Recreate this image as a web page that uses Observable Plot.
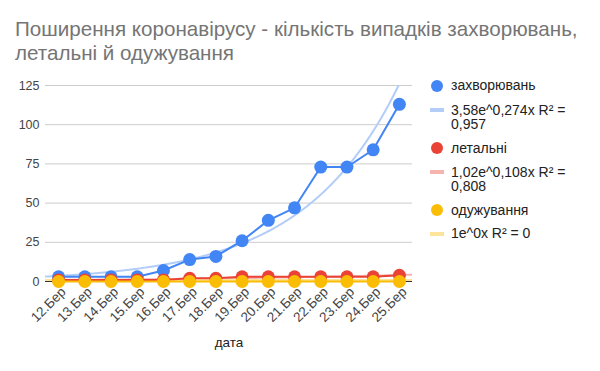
<!DOCTYPE html>
<html>
<head>
<meta charset="utf-8">
<script src="https://cdn.jsdelivr.net/npm/d3@7"></script>
<script src="https://cdn.jsdelivr.net/npm/@observablehq/plot@0.6"></script>
<style>
  html, body { margin: 0; padding: 0; background: #fff; }
  body { width: 600px; height: 371px; overflow: hidden; font-family: "Liberation Sans", Arial, sans-serif; }
  #wrap { position: relative; width: 600px; height: 371px; }
  #title { position: absolute; left: 15px; top: 17px; font-size: 20.6px; line-height: 24px; color: #757575; white-space: nowrap; }
  #chart { position: absolute; left: 0; top: 0; }
  #legend { position: absolute; left: 0; top: 0; width: 600px; height: 371px; pointer-events: none; }
  .lg-item { position: absolute; left: 451px; font-size: 14px; line-height: 14.5px; color: #222; }
  .lg-dot { position: absolute; width: 12px; height: 12px; border-radius: 50%; }
  .lg-line { position: absolute; width: 14px; height: 4px; }
</style>
</head>
<body>
<div id="wrap">
  <div id="chart"></div>
  <div id="title">Поширення коронавірусу - кількість випадків захворювань,<br>летальні й одужування</div>
  <div id="legend"></div>
</div>
<script>
// ---- data ----
const dates = ["12.Бер","13.Бер","14.Бер","15.Бер","16.Бер","17.Бер","18.Бер","19.Бер","20.Бер","21.Бер","22.Бер","23.Бер","24.Бер","25.Бер"];
const cases = [3, 3, 3, 3, 7, 14, 16, 26, 39, 47, 73, 73, 84, 113];
const deaths = [1, 1, 1, 1, 1, 2, 2, 3, 3, 3, 3, 3, 3, 4];
const recovered = [0, 0, 0, 0, 0, 0, 0, 0, 0, 0, 0, 0, 0, 0];
const seriesNames = ["захворювань", "летальні", "одужування"];
const seriesColors = ["#4285F4", "#EA4335", "#FBBC04"];
const trendColors = ["#b3cdf9", "#f5b4ae", "#fde49b"];
const trendA = [3.58, 1.02, 1];
const trendB = [0.274, 0.108, 0];
const trendLabels = ["3,58e^0,274x R² =<br>0,957", "1,02e^0,108x R² =<br>0,808", "1e^0x R² = 0"];
const yTicks = [0, 25, 50, 75, 100, 125];
const xTitle = "дата";

// ---- build tables ----
const allSeries = [cases, deaths, recovered];
const points = [];
allSeries.forEach((vals, s) => vals.forEach((v, i) => points.push({s, i, v})));
const trendPts = [];
for (let s = 0; s < 3; s++) {
  for (let k = 0; k <= 280; k++) {
    const t = -0.5 + k * 0.05;
    trendPts.push({s, t, v: trendA[s] * Math.exp(trendB[s] * t)});
  }
}

const FONT = "'Liberation Sans', Arial, sans-serif";
const marks = [
  Plot.gridY(yTicks, {stroke: "#cccccc", strokeOpacity: 1}),
  Plot.axisY(yTicks, {tickSize: 0, tickPadding: 6, fontSize: 12.5, fill: "#444", label: null}),
  Plot.axisX(d3.range(dates.length), {tickSize: 0, tickPadding: 8, dx: 5, tickRotate: -45, fontSize: 13.5, fill: "#444", label: null, tickFormat: i => dates[i]}),
];
for (let s = 0; s < 3; s++) {
  marks.push(Plot.line(trendPts.filter(d => d.s === s), {x: "t", y: "v", stroke: trendColors[s], strokeWidth: 2, clip: true, curve: "linear"}));
}
marks.push(Plot.ruleY([0], {stroke: "#333", strokeWidth: 1}));
for (let s = 0; s < 3; s++) {
  const pts = points.filter(d => d.s === s);
  marks.push(Plot.line(pts, {x: "i", y: "v", stroke: seriesColors[s], strokeWidth: 2}));
  marks.push(Plot.dot(pts, {x: "i", y: "v", fill: seriesColors[s], r: 6.5}));
}
marks.push(Plot.text([xTitle], {frameAnchor: "bottom", dy: 65, fontSize: 13.5, fill: "#222", text: d => d}));

const chart = Plot.plot({
  width: 600,
  height: 371,
  marginLeft: 45,
  marginRight: 188,
  marginTop: 85,
  marginBottom: 90,
  style: {fontFamily: FONT, background: "#fff"},
  x: {type: "linear", domain: [-0.5, dates.length - 0.5]},
  y: {domain: [0, 125]},
  marks
});
document.getElementById("chart").appendChild(chart);

// ---- legend ----
const lg = document.getElementById("legend");
const rows = [
  {kind: "dot", s: 0, y: 85.5, text: seriesNames[0]},
  {kind: "line", s: 0, y: 110, text: trendLabels[0]},
  {kind: "dot", s: 1, y: 148, text: seriesNames[1]},
  {kind: "line", s: 1, y: 172, text: trendLabels[1]},
  {kind: "dot", s: 2, y: 210, text: seriesNames[2]},
  {kind: "line", s: 2, y: 233.5, text: trendLabels[2]},
];
rows.forEach(r => {
  const m = document.createElement("div");
  if (r.kind === "dot") {
    m.className = "lg-dot";
    m.style.left = (437 - 6) + "px";
    m.style.top = (r.y - 6) + "px";
    m.style.background = seriesColors[r.s];
  } else {
    m.className = "lg-line";
    m.style.left = "430px";
    m.style.top = (r.y - 2) + "px";
    m.style.background = trendColors[r.s];
  }
  lg.appendChild(m);
  const t = document.createElement("div");
  t.className = "lg-item";
  t.style.top = (r.y - 7.5) + "px";
  t.innerHTML = r.text;
  lg.appendChild(t);
});
</script>
</body>
</html>
